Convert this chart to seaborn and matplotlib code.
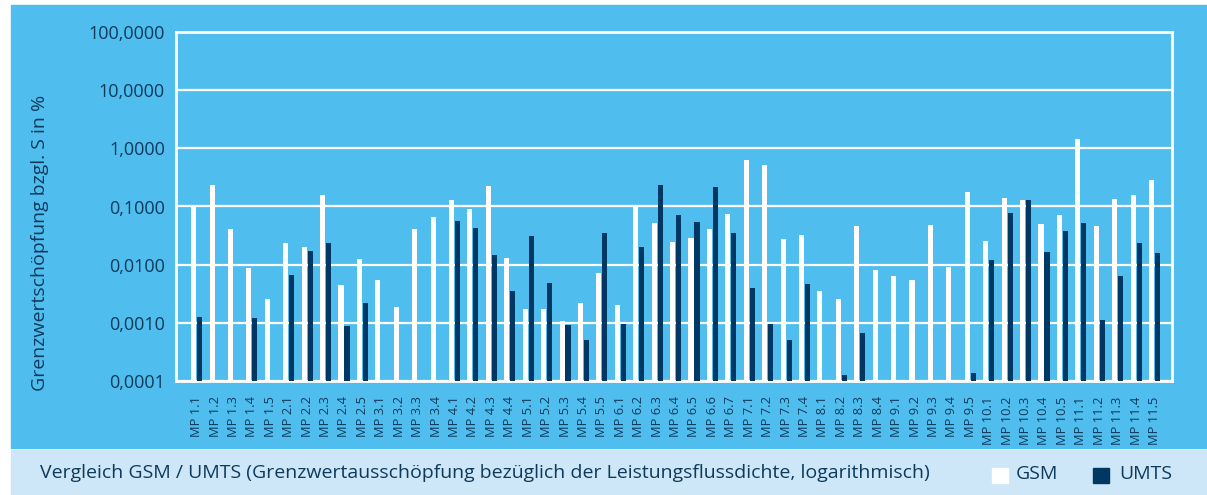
import matplotlib.pyplot as plt
import matplotlib.patches as mpatches
import matplotlib.ticker as mticker
import seaborn as sns
import numpy as np
import pandas as pd

# ----------------------------------------
# data (% of limit)
# ----------------------------------------
nan = np.nan
points = [
    "MP 1.1", "MP 1.2", "MP 1.3", "MP 1.4", "MP 1.5",
    "MP 2.1", "MP 2.2", "MP 2.3", "MP 2.4", "MP 2.5",
    "MP 3.1", "MP 3.2", "MP 3.3", "MP 3.4",
    "MP 4.1", "MP 4.2", "MP 4.3", "MP 4.4",
    "MP 5.1", "MP 5.2", "MP 5.3", "MP 5.4", "MP 5.5",
    "MP 6.1", "MP 6.2", "MP 6.3", "MP 6.4", "MP 6.5", "MP 6.6", "MP 6.7",
    "MP 7.1", "MP 7.2", "MP 7.3", "MP 7.4",
    "MP 8.1", "MP 8.2", "MP 8.3", "MP 8.4",
    "MP 9.1", "MP 9.2", "MP 9.3", "MP 9.4", "MP 9.5",
    "MP 10.1", "MP 10.2", "MP 10.3", "MP 10.4", "MP 10.5",
    "MP 11.1", "MP 11.2", "MP 11.3", "MP 11.4", "MP 11.5",
]
gsm = [
    0.105, 0.23, 0.041, 0.0088, 0.0026,
    0.0237, 0.0203, 0.156, 0.0044, 0.0126,
    0.0055, 0.00185, 0.041, 0.066,
    0.128, 0.090, 0.222, 0.0131,
    0.0017, 0.0017, 0.00107, 0.0022, 0.0073,
    0.0020, 0.105, 0.052, 0.0247, 0.0289, 0.041, 0.074,
    0.64, 0.51, 0.0277, 0.0324,
    0.0035, 0.0026, 0.046, 0.0082,
    0.0065, 0.0055, 0.048, 0.0092, 0.175,
    0.0256, 0.139, 0.128, 0.050, 0.071,
    1.46, 0.046, 0.133, 0.156, 0.281,
]
umts = [
    0.00125, nan, nan, 0.0012, nan,
    0.0067, 0.0174, 0.0237, 0.00088, 0.0022,
    nan, nan, nan, nan,
    0.056, 0.043, 0.0148, 0.0035,
    0.0312, 0.0049, 0.00091, 0.00051, 0.035,
    0.00095, 0.0203, 0.231, 0.071, 0.054, 0.214, 0.035,
    0.0039, 0.00095, 0.00051, 0.0046,
    nan, 0.000128, 0.00067, nan,
    nan, nan, nan, nan, 0.000139,
    0.0122, 0.077, 0.128, 0.0167, 0.038,
    0.052, 0.00111, 0.0065, 0.0237, 0.016,
]
ytick_values = [0.0001, 0.001, 0.01, 0.1, 1, 10, 100]

df = pd.DataFrame({
    "MP": points * 2,
    "Wert": gsm + umts,
    "System": ["GSM"] * len(points) + ["UMTS"] * len(points),
})

# ----------------------------------------
# colours
# ----------------------------------------
sky = "#4FBEEE"
strip = "#CDE7F8"
navy = "#003863"
text_col = "#0F3A5C"

W, H = 1207, 495
fig = plt.figure(figsize=(W / 100, H / 100), dpi=100, facecolor="white")

# blue panel and caption strip behind the chart
fig.patches.append(mpatches.Rectangle((11 / W, 1 - 448 / H), 1, (448 - 5) / H,
                                      transform=fig.transFigure, color=sky, zorder=-2))
fig.patches.append(mpatches.Rectangle((11 / W, 0), 1, (495 - 450) / H,
                                      transform=fig.transFigure, color=strip, zorder=-2))

ax = fig.add_axes([176 / W, 1 - 381 / H, (1172 - 176) / W, (381 - 32) / H])
ax.set_facecolor(sky)

sns.barplot(data=df, x="MP", y="Wert", hue="System",
            palette={"GSM": "white", "UMTS": navy},
            width=0.65, gap=0.15, saturation=1, legend=False, ax=ax, zorder=3)

ax.set_yscale("log")
ax.set_ylim(0.0001, 100)
ax.set_xlim(-1.12, 52.95)
ax.yaxis.set_major_locator(mticker.FixedLocator(ytick_values))
ax.yaxis.set_minor_locator(mticker.NullLocator())
ax.yaxis.set_major_formatter(mticker.FuncFormatter(lambda v, p: f"{v:.4f}".replace(".", ",")))

ax.grid(axis="y", color="white", linewidth=1.6, zorder=1)
ax.set_axisbelow(True)
for s in ax.spines.values():
    s.set_color("white")
    s.set_linewidth(2)

ax.tick_params(axis="both", length=0, colors=text_col)
ax.tick_params(axis="y", labelsize=13, pad=8)
ax.tick_params(axis="x", labelsize=9.3, pad=11)
plt.setp(ax.get_xticklabels(), rotation=90, family="Open Sans")
plt.setp(ax.get_yticklabels(), family="Open Sans")

ax.set_xlabel("")
ax.set_ylabel("Grenzwertschöpfung bzgl. S in %", fontsize=14, color=text_col,
              family="Open Sans")
ax.yaxis.set_label_coords(-0.128, 0.395)

# caption and legend in the bottom strip
fig.text(40 / W, 1 - 473 / H,
         "Vergleich GSM / UMTS (Grenzwertausschöpfung bezüglich der Leistungsflussdichte, logarithmisch)",
         fontsize=14, color=text_col, family="Open Sans", va="center", ha="left")
fig.patches.append(mpatches.Rectangle((992 / W, 1 - 483 / H), 16 / W, 15 / H,
                                      transform=fig.transFigure, color="white"))
fig.text(1016 / W, 1 - 474 / H, "GSM", fontsize=14, color=text_col,
         family="Open Sans", va="center", ha="left")
fig.patches.append(mpatches.Rectangle((1093 / W, 1 - 483 / H), 16 / W, 15 / H,
                                      transform=fig.transFigure, color=navy))
fig.text(1119 / W, 1 - 474 / H, "UMTS", fontsize=14, color=text_col,
         family="Open Sans", va="center", ha="left")

fig.savefig("out.png", dpi=100, facecolor=fig.get_facecolor())
plt.close(fig)
